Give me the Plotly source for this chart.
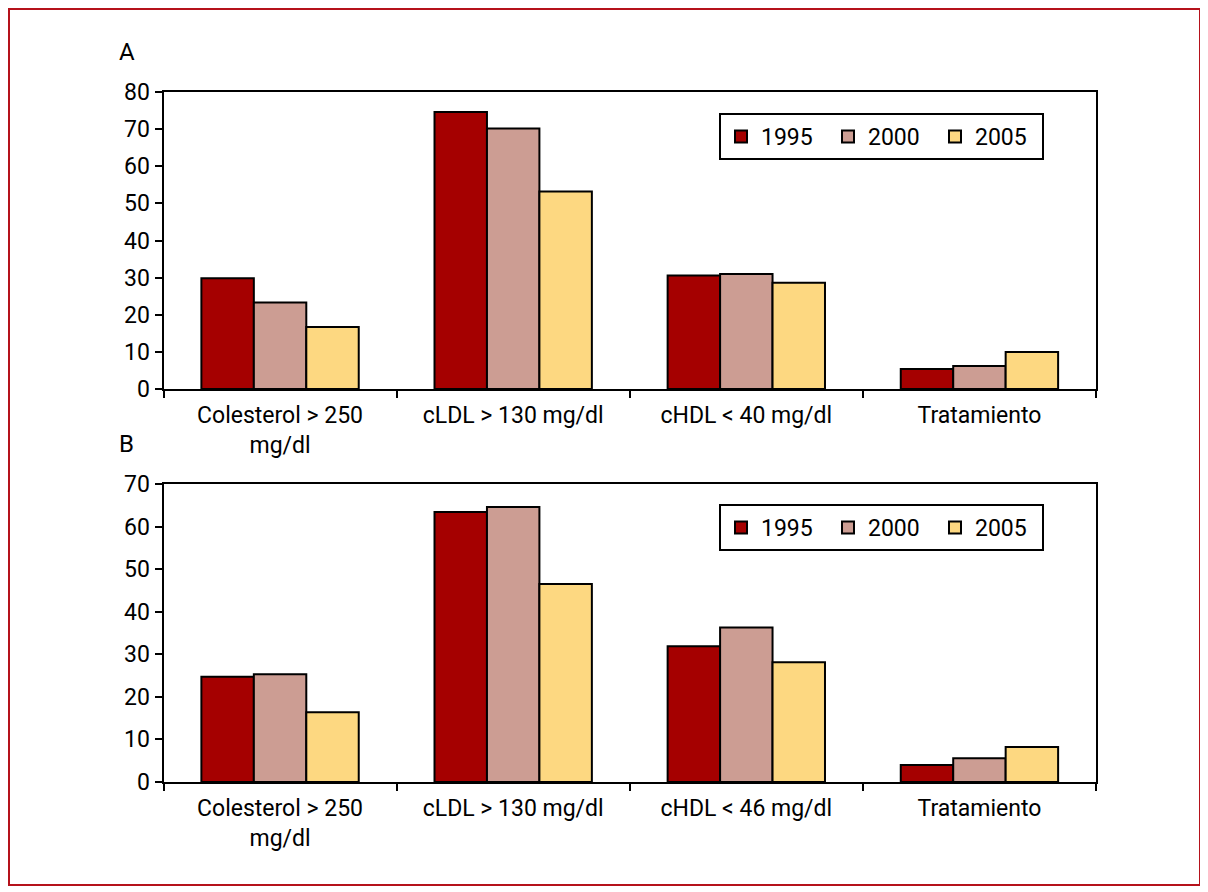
import plotly.graph_objects as go

# categories and values
cats_a = ["Colesterol > 250<br>mg/dl", "cLDL > 130 mg/dl", "cHDL < 40 mg/dl", "Tratamiento"]
cats_b = ["Colesterol > 250<br>mg/dl", "cLDL > 130 mg/dl", "cHDL < 46 mg/dl", "Tratamiento"]
years = ["1995", "2000", "2005"]

a_1995 = [29.8, 74.6, 30.6, 5.4]
a_2000 = [23.3, 70.2, 31.0, 6.2]
a_2005 = [16.7, 53.2, 28.6, 10.0]

b_1995 = [24.7, 63.4, 31.9, 4.0]
b_2000 = [25.3, 64.6, 36.3, 5.6]
b_2005 = [16.4, 46.5, 28.1, 8.2]

colors = ["#a50000", "#cc9d93", "#fdd881"]
FONT = "Roboto, Liberation Sans, sans-serif"

# the page body has an 8px margin, so the figure is 8px smaller and
# positions (given in window pixels) are shifted back by 8
W, H, OFF = 1200, 884, 8


def px(x):
    return (x - OFF) / W


def py(y):
    return 1 - (y - OFF) / H


fig = go.Figure()

for yr, vals, col in zip(years, [a_1995, a_2000, a_2005], colors):
    fig.add_trace(go.Bar(x=cats_a, y=vals, name=yr, marker_color=col,
                         marker_line=dict(color="black", width=2),
                         xaxis="x", yaxis="y", legend="legend"))
for yr, vals, col in zip(years, [b_1995, b_2000, b_2005], colors):
    fig.add_trace(go.Bar(x=cats_b, y=vals, name=yr, marker_color=col,
                         marker_line=dict(color="black", width=2),
                         xaxis="x2", yaxis="y2", legend="legend2"))

axis_x = dict(domain=[px(163.5), px(1096)], showline=True, linecolor="black", linewidth=2,
              mirror=True, ticks="outside", tickson="boundaries", ticklen=7, tickwidth=2,
              tickcolor="black", tickfont=dict(size=23, color="black"), automargin=False,
              ticklabelstandoff=4)
axis_y = dict(showline=True, linecolor="black", linewidth=2, mirror=True,
              ticks="outside", ticklen=7, tickwidth=2, tickcolor="black", dtick=10,
              showgrid=False, zeroline=False, tickfont=dict(size=23, color="black"),
              automargin=False)

leg = dict(orientation="h", xanchor="left", yanchor="top", bgcolor="white",
           bordercolor="black", borderwidth=2, font=dict(size=23, color="black"),
           traceorder="normal", entrywidth=62, itemwidth=30)

fig.update_layout(
    width=W, height=H, autosize=False,
    margin=dict(l=0, r=0, t=0, b=0, pad=0),
    paper_bgcolor="white", plot_bgcolor="white",
    font=dict(family=FONT, color="black"),
    barmode="group", bargap=0.325, bargroupgap=0,
    xaxis=dict(axis_x, anchor="y"),
    yaxis=dict(axis_y, domain=[py(389), py(92)], range=[0, 80], anchor="x"),
    xaxis2=dict(axis_x, anchor="y2"),
    yaxis2=dict(axis_y, domain=[py(782), py(484)], range=[0, 70], anchor="x2"),
    legend=dict(leg, x=px(719), y=py(113)),
    legend2=dict(leg, x=px(719), y=py(504)),
    showlegend=True,
)

# panel letters
fig.add_annotation(x=px(117), y=py(52), xref="paper", yref="paper", text="A",
                   showarrow=False, xanchor="left", yanchor="middle", font=dict(size=24))
fig.add_annotation(x=px(117), y=py(444), xref="paper", yref="paper", text="B",
                   showarrow=False, xanchor="left", yanchor="middle", font=dict(size=24))

# red frame round the figure
fig.add_shape(type="rect", xref="paper", yref="paper",
              x0=px(9), x1=px(1200), y0=py(885), y1=py(9),
              line=dict(color="#b5121b", width=2))

fig.write_html("out.html")
